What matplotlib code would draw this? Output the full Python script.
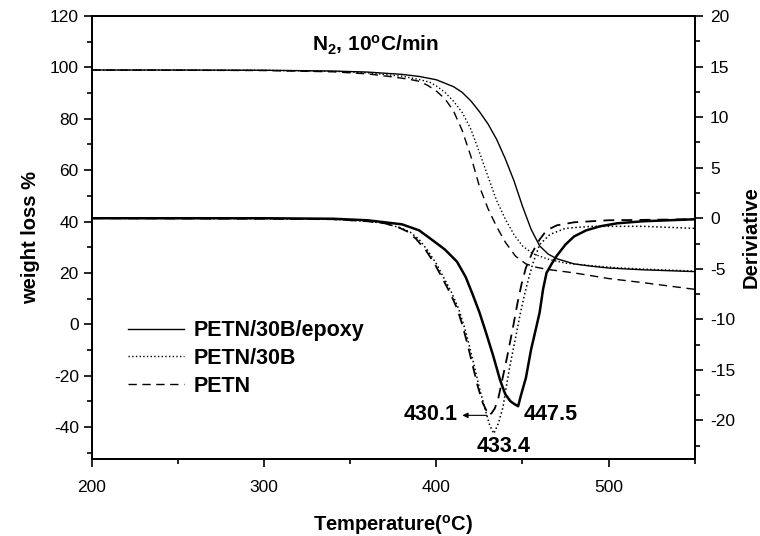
import matplotlib
matplotlib.use('Agg')
import matplotlib.pyplot as plt
from matplotlib.ticker import MultipleLocator

plt.rcParams['font.family'] = ['Liberation Sans', 'DejaVu Sans']
plt.rcParams['axes.unicode_minus'] = False
plt.rcParams['mathtext.fontset'] = 'custom'
plt.rcParams['mathtext.rm'] = 'Liberation Sans:bold'
plt.rcParams['mathtext.default'] = 'rm'

# TGA curves (weight %, left axis)
t_epoxy = [200, 250, 300, 340, 360, 380, 390, 400, 410, 415, 420, 425, 430, 435, 440,
           445, 450, 455, 460, 465, 470, 480, 490, 500, 520, 550]
w_epoxy = [99.0, 99.0, 98.9, 98.6, 98.2, 97.3, 96.5, 95.2, 92.5, 90.3, 87.0, 82.8, 78.0, 72.0, 64.5,
           56.0, 46.0, 37.0, 30.5, 27.3, 25.5, 23.5, 22.6, 21.9, 21.2, 20.5]

t_30b = [200, 300, 340, 360, 380, 390, 396, 400, 405, 410, 415, 420, 425, 430, 435,
         440, 445, 450, 456, 465, 475, 490, 505, 520, 550]
w_30b = [99.0, 98.9, 98.5, 97.9, 96.6, 95.3, 94.3, 92.8, 90.3, 86.8, 82.5, 76.0, 67.0, 57.5, 48.2,
         41.0, 35.0, 30.5, 27.5, 25.3, 23.8, 22.8, 22.0, 21.5, 20.7]

t_petn = [200, 300, 340, 360, 375, 385, 390, 395, 400, 405, 410, 415, 420, 425, 430,
          435, 440, 446, 452, 458, 464, 480, 500, 520, 550]
w_petn = [99.0, 98.8, 98.3, 97.5, 96.3, 95.3, 94.6, 93.0, 90.8, 87.8, 83.0, 75.5, 65.5, 53.7, 45.0,
          38.0, 32.0, 26.5, 23.5, 22.2, 21.4, 20.0, 17.8, 16.2, 13.6]

# DTG curves (derivative, right axis)
dt_epoxy = [200, 250, 300, 340, 360, 370, 380, 390, 398, 405, 412, 417, 421, 425, 429, 433,
            437, 440, 443, 445.5, 447.5, 449, 452, 455, 458, 460, 462, 464, 467, 470, 475,
            480, 487, 495, 505, 520, 550]
d_epoxy = [0.0, 0.0, 0.0, -0.05, -0.2, -0.4, -0.6, -1.2, -2.2, -3.1, -4.3, -5.8, -7.5, -9.3, -11.4, -13.6,
           -16.0, -17.4, -18.1, -18.4, -18.6, -17.6, -15.8, -13.0, -10.8, -9.3, -7.0, -5.4, -4.5, -3.7, -2.6,
           -1.8, -1.2, -0.8, -0.5, -0.3, -0.1]

dt_30b = [200, 300, 340, 360, 370, 380, 385, 390, 395, 400, 405, 409, 413, 416, 419, 422,
          425, 428, 431, 433.4, 436, 438.7, 440.5, 442.6, 446.5, 449, 451.3, 454, 456, 460,
          466, 475, 490, 520, 550]
d_30b = [0.0, -0.05, -0.1, -0.3, -0.5, -1.0, -1.4, -2.1, -3.2, -4.5, -6.1, -7.4, -9.0, -10.6, -12.5, -14.6,
         -16.8, -18.7, -20.5, -21.3, -20.3, -18.7, -16.8, -14.7, -11.4, -9.2, -7.5, -5.7, -4.5, -2.6,
         -1.6, -1.0, -0.8, -0.8, -1.0]

dt_petn = [200, 300, 340, 360, 370, 378, 383, 388, 394, 399, 404, 408, 412, 415, 418, 421,
           424, 427, 429, 430.1, 432, 434, 436, 438, 441, 444.5, 447, 449.5, 452, 456, 460,
           464, 470, 480, 500, 550]
d_petn = [0.0, -0.05, -0.1, -0.3, -0.5, -0.9, -1.3, -2.0, -3.2, -4.5, -6.1, -7.4, -8.9, -10.5, -12.4, -14.5,
          -16.6, -18.3, -19.0, -19.5, -19.3, -18.8, -17.8, -16.2, -13.8, -10.8, -8.5, -6.5, -4.9, -3.3, -2.1,
          -1.2, -0.7, -0.4, -0.2, -0.1]

labels = ['PETN/30B/epoxy', 'PETN/30B', 'PETN']
styles = ['-', ':', (0, (6, 4))]

fig = plt.figure(figsize=(7.6, 5.36), dpi=100)
ax = fig.add_axes([0.121, 0.144, 0.793, 0.826])
ax2 = ax.twinx()

ax.plot(t_epoxy, w_epoxy, color='black', lw=1.0, ls=styles[0], label=labels[0])
ax.plot(t_30b, w_30b, color='black', lw=1.0, ls=styles[1], label=labels[1])
ax.plot(t_petn, w_petn, color='black', lw=1.0, ls=styles[2], label=labels[2])

ax2.plot(dt_epoxy, d_epoxy, color='black', lw=1.8, ls=styles[0])
ax2.plot(dt_30b, d_30b, color='black', lw=1.1, ls=styles[1])
ax2.plot(dt_petn, d_petn, color='black', lw=1.3, ls=styles[2])

ax.set_xlim(200, 550)
ax.set_ylim(-52.4, 120)
ax2.set_ylim(-23.8, 20)

ax.xaxis.set_major_locator(MultipleLocator(100))
ax.xaxis.set_minor_locator(MultipleLocator(50))
ax.yaxis.set_major_locator(MultipleLocator(20))
ax.yaxis.set_minor_locator(MultipleLocator(10))
ax2.yaxis.set_major_locator(MultipleLocator(5))
ax2.yaxis.set_minor_locator(MultipleLocator(2.5))

for a in (ax, ax2):
    a.tick_params(which='major', direction='out', length=6, width=1.2, labelsize=12.5)
    a.tick_params(which='minor', direction='out', length=3.5, width=1.2)
    for s in a.spines.values():
        s.set_linewidth(1.3)
ax.tick_params(axis='x', pad=9)
ax2.tick_params(axis='y', pad=5)

ax.set_xlabel('Temperature($^{\\mathrm{o}}$C)', fontsize=14.5, fontweight='bold', labelpad=13)
ax.set_ylabel('weight loss %', fontsize=14.5, fontweight='bold', labelpad=7)
ax2.set_ylabel('Deriviative', fontsize=14.5, fontweight='bold', labelpad=5)

ax.text(0.47, 0.935, 'N$_{\\mathrm{2}}$, 10$^{\\mathrm{o}}$C/min', transform=ax.transAxes,
        ha='center', va='center', fontsize=15, fontweight='bold')

ax.legend(loc='upper left', bbox_to_anchor=(0.027, 0.357), frameon=False,
          handlelength=2.6, handletextpad=0.45, labelspacing=0.32,
          prop={'weight': 'bold', 'size': 15.5})

ax2.annotate('', xy=(413.5, -19.5), xytext=(431, -19.5),
             arrowprops=dict(arrowstyle='-|>', color='black', lw=0.8, mutation_scale=8))
ax2.text(412.5, -19.4, '430.1', ha='right', va='center', fontsize=15.5, fontweight='bold')
ax2.text(450.5, -19.4, '447.5', ha='left', va='center', fontsize=15.5, fontweight='bold')
ax2.text(439, -22.6, '433.4', ha='center', va='center', fontsize=15.5, fontweight='bold')

fig.savefig('out.png', dpi=100)
